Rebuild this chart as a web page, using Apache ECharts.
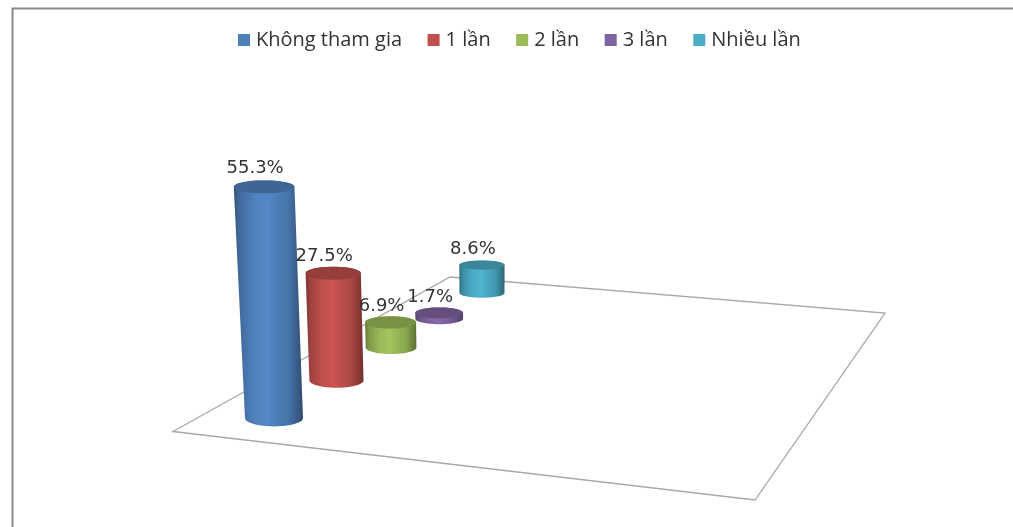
<!DOCTYPE html>
<html><head><meta charset="utf-8">
<style>html,body{margin:0;padding:0;background:#fff}#c{width:1013px;height:527px}</style>
<script src="https://cdn.jsdelivr.net/npm/echarts@6/dist/echarts.min.js"></script>
</head><body><div id="c"></div>
<script>
const categories = ['Không tham gia', '1 lần', '2 lần', '3 lần', 'Nhiều lần'];
const values = [55.3, 27.5, 6.9, 1.7, 8.6];
const labels = ['55.3%', '27.5%', '6.9%', '1.7%', '8.6%'];
const colors = ['#4F81BD', '#C0504D', '#9BBB59', '#8064A2', '#4BACC6'];

const DEPTH = 0.072, VANISH_X = 490, VANISH_D = 5050, DRIFT_Y = -10.15;
const chart = echarts.init(document.getElementById('c'), null, {renderer: 'canvas'});
function shade(c, f) {
  const n = parseInt(c.slice(1), 16);
  const ch = s => Math.min(255, Math.round(((n >> s) & 255) * f));
  return 'rgb(' + ch(16) + ',' + ch(8) + ',' + ch(0) + ')';
}

function arc(cx, cy, rx, ry, from, to) {
  const pts = [];
  for (let k = 0; k <= 24; k++) {
    const a = from + (to - from) * k / 24;
    pts.push([cx + rx * Math.cos(a), cy + ry * Math.sin(a)]);
  }
  return pts;
}

function renderItem(params, api) {
  const idx = api.value(0), v = api.value(1);
  const base = api.coord([idx, 0]), top = api.coord([idx, v]);
  const w = 1 + DEPTH * idx;
  const bx = base[0] / w, by = (base[1] + DRIFT_Y * idx) / w;
  const h = (base[1] - top[1]) / w;
  const rx = api.size([1, 0])[0] * 0.3345 / w;
  const ry = rx * (0.29 - 0.02 * idx);
  const k = h / VANISH_D;
  const tx = bx + k * (bx - VANISH_X), ty = by - h;
  const trx = rx * (1 + k), tryy = ry * (1 - h / 1000);
  const col = colors[params.seriesIndex];
  const body = arc(bx, by, rx, ry, 0, Math.PI).concat(arc(tx, ty, trx, tryy, Math.PI, 2 * Math.PI));
  const fill = new echarts.graphic.LinearGradient(0, 0, 1, 0, [
    {offset: 0, color: shade(col, 0.64)},
    {offset: 0.08, color: shade(col, 0.82)},
    {offset: 0.3, color: shade(col, 1.0)},
    {offset: 0.48, color: shade(col, 1.05)},
    {offset: 0.8, color: shade(col, 0.88)},
    {offset: 1, color: shade(col, 0.6)}
  ]);
  const z0 = 10 - idx;
  return {
    type: 'group',
    children: [
      {type: 'polygon', z2: z0, shape: {points: body}, style: {fill: fill}},
      {type: 'polygon', z2: z0 + 1, shape: {points: arc(tx, ty, trx, tryy, 0, 2 * Math.PI)},
        style: {fill: shade(col, 0.78)}},
      {type: 'text', z2: 100, style: {
        text: labels[params.seriesIndex], x: tx - 9, y: ty - 15.5 - h / 70, align: 'center', verticalAlign: 'middle',
        fill: '#333', font: '18px "DejaVu Sans"'}}
    ]
  };
}

chart.setOption({
  animation: false,
  backgroundColor: '#fff',
  color: colors,
  legend: {
    left: 233, top: 25, itemWidth: 12, itemHeight: 12, itemGap: 25.5, icon: 'rect',
    textStyle: {fontFamily: 'Open Sans', fontSize: 20, color: '#333', padding: [0, 0, 0, 1]}
  },
  grid: {left: 230.65, top: 167.2, width: 433.5, height: 250.8},
  xAxis: {type: 'category', data: categories, show: false},
  yAxis: {type: 'value', min: 0, max: 60, show: false},
  graphic: [
    {type: 'polygon', z: -1, shape: {points: [[173, 431.5], [755, 500], [885, 313], [450, 277]]},
      style: {fill: 'transparent', stroke: '#a8a8a8', lineWidth: 1.3}},
    {type: 'polyline', z: -1, shape: {points: [[12.5, 527], [12.5, 8.5], [1013, 8.5]]},
      style: {fill: 'none', stroke: '#8a8a8a', lineWidth: 2}}
  ],
  series: categories.map((c, i) => ({
    name: c, type: 'custom', renderItem: renderItem, clip: false,
    encode: {x: 0, y: 1}, data: [[i, values[i]]]
  }))
});
</script></body></html>
